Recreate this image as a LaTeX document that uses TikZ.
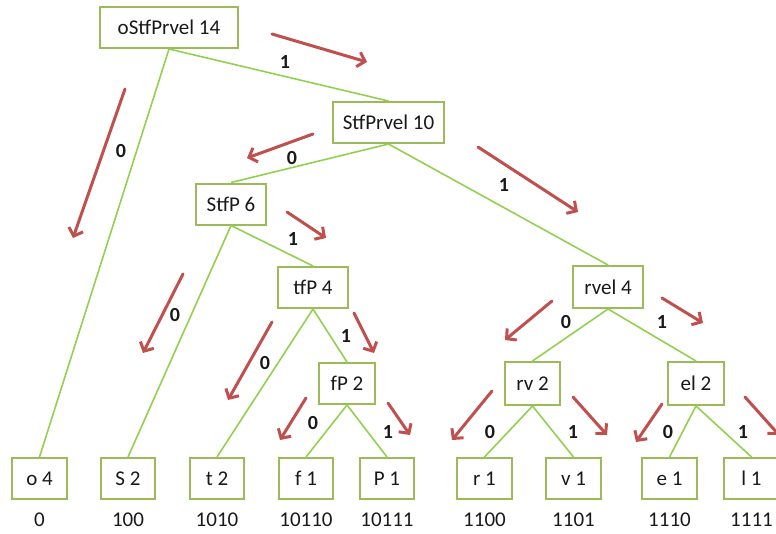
\documentclass[tikz,border=0pt]{standalone}
\usepackage{fontspec}
\setmainfont{Carlito}
\usetikzlibrary{arrows.meta}
\definecolor{boxgreen}{RGB}{155,187,89}
\definecolor{linegreen}{RGB}{146,208,80}
\definecolor{arrowred}{RGB}{192,80,77}
\definecolor{txt}{RGB}{25,25,25}
\tikzset{
  tbox/.style={draw=boxgreen, line width=2pt, fill=white, inner sep=0pt, minimum height=41pt, text=txt, font=\fontsize{21}{25}\selectfont},
  edge/.style={draw=linegreen, line width=1.6pt},
  redarrow/.style={draw=arrowred, line width=3pt, line cap=round, -{Straight Barb[length=7pt,width=15pt]}},
  bit/.style={font=\fontsize{20}{24}\selectfont\bfseries, text=txt, inner sep=0pt},
  code/.style={font=\fontsize{21}{25}\selectfont, text=txt, inner sep=0pt}
}
\begin{document}
\begin{tikzpicture}[x=1pt,y=-1pt]
\useasboundingbox (0,0) rectangle (776,533);
% internal nodes
\node[tbox, minimum width=138pt] (root) at (169,27.5) {oStfPrvel 14};
\node[tbox, minimum width=111pt] (n10) at (388.5,122.5) {StfPrvel 10};
\node[tbox, minimum width=70pt] (n6) at (231,204) {StfP 6};
\node[tbox, minimum width=70pt] (tfp) at (313,287.5) {tfP 4};
\node[tbox, minimum width=56pt] (fp) at (347,383.5) {fP 2};
\node[tbox, minimum width=70pt, minimum height=42pt] (rvel) at (608,287) {rvel 4};
\node[tbox, minimum width=55pt, minimum height=43pt] (rv) at (532.5,383.5) {rv 2};
\node[tbox, minimum width=56pt, minimum height=43pt] (el) at (696,383.5) {el 2};
% leaves
\node[tbox, minimum width=55pt] (o) at (39.5,478.5) {o 4};
\node[tbox, minimum width=54pt] (S) at (128,478.5) {S 2};
\node[tbox, minimum width=54pt] (t) at (217,478.5) {t 2};
\node[tbox, minimum width=54pt] (f) at (306,478.5) {f 1};
\node[tbox, minimum width=54pt] (P) at (387,478.5) {P 1};
\node[tbox, minimum width=55pt] (r) at (484.5,478.5) {r 1};
\node[tbox, minimum width=55pt] (v) at (573.5,478.5) {v 1};
\node[tbox, minimum width=55pt] (e) at (669.5,478.5) {e 1};
\node[tbox, minimum width=55pt] (l) at (751.5,478.5) {l 1};
% edges
\draw[edge] (root.south) -- (o.north);
\draw[edge] (root.south) -- (n10.north);
\draw[edge] (n10.south) -- (n6.north);
\draw[edge] (n10.south) -- (rvel.north);
\draw[edge] (n6.south) -- (S.north);
\draw[edge] (n6.south) -- (tfp.north);
\draw[edge] (tfp.south) -- (t.north);
\draw[edge] (tfp.south) -- (fp.north);
\draw[edge] (fp.south) -- (f.north);
\draw[edge] (fp.south) -- (P.north);
\draw[edge] (rvel.south) -- (rv.north);
\draw[edge] (rvel.south) -- (el.north);
\draw[edge] (rv.south) -- (r.north);
\draw[edge] (rv.south) -- (v.north);
\draw[edge] (el.south) -- (e.north);
\draw[edge] (el.south) -- (l.north);
% codes
\node[code] (c0) at (39.5,520) {0};
\node[code] (c1) at (128,520) {100};
\node[code] (c2) at (217,520) {1010};
\node[code] (c3) at (306,520) {10110};
\node[code] (c4) at (387,520) {10111};
\node[code] (c5) at (484.5,520) {1100};
\node[code] (c6) at (573.5,520) {1101};
\node[code] (c7) at (669.5,520) {1110};
\node[code] (c8) at (751.5,520) {1111};
% bit labels
\node[bit] (b1) at (285,62) {1};
\node[bit] (b2) at (121,151) {0};
\node[bit] (b3) at (292,158) {0};
\node[bit] (b4) at (504,185) {1};
\node[bit] (b5) at (293,239) {1};
\node[bit] (b6) at (175,315) {0};
\node[bit] (b7) at (265,363) {0};
\node[bit] (b8) at (346,336) {1};
\node[bit] (b9) at (313,423) {0};
\node[bit] (b10) at (388,432) {1};
\node[bit] (b11) at (566,322) {0};
\node[bit] (b12) at (662,322) {1};
\node[bit] (b13) at (490,432) {0};
\node[bit] (b14) at (573,432) {1};
\node[bit] (b15) at (668,432) {0};
\node[bit] (b16) at (743,432) {1};
% red arrows
\coordinate (a1s) at (272,34);  \coordinate (a1e) at (367,62);
\coordinate (a2s) at (125,89);  \coordinate (a2e) at (73,238);
\coordinate (a3s) at (313,134); \coordinate (a3e) at (247,158);
\coordinate (a4s) at (478,147); \coordinate (a4e) at (578,212);
\coordinate (a5s) at (287,212); \coordinate (a5e) at (326,238);
\coordinate (a6s) at (183,274); \coordinate (a6e) at (143,353);
\coordinate (a7s) at (272,322); \coordinate (a7e) at (228,400);
\coordinate (a8s) at (354,313); \coordinate (a8e) at (374,353);
\coordinate (a9s) at (306,398); \coordinate (a9e) at (280,440);
\coordinate (a10s) at (388,403); \coordinate (a10e) at (410,435);
\coordinate (a11s) at (552,301); \coordinate (a11e) at (505,340);
\coordinate (a12s) at (662,298); \coordinate (a12e) at (703,323);
\coordinate (a13s) at (492,391); \coordinate (a13e) at (452,440);
\coordinate (a14s) at (573,397); \coordinate (a14e) at (607,435);
\coordinate (a15s) at (662,404); \coordinate (a15e) at (636,442);
\coordinate (a16s) at (745,397); \coordinate (a16e) at (779,435);
\foreach \i in {1,...,16} {\draw[redarrow] (a\i s) -- (a\i e);}
\end{tikzpicture}
\end{document}
